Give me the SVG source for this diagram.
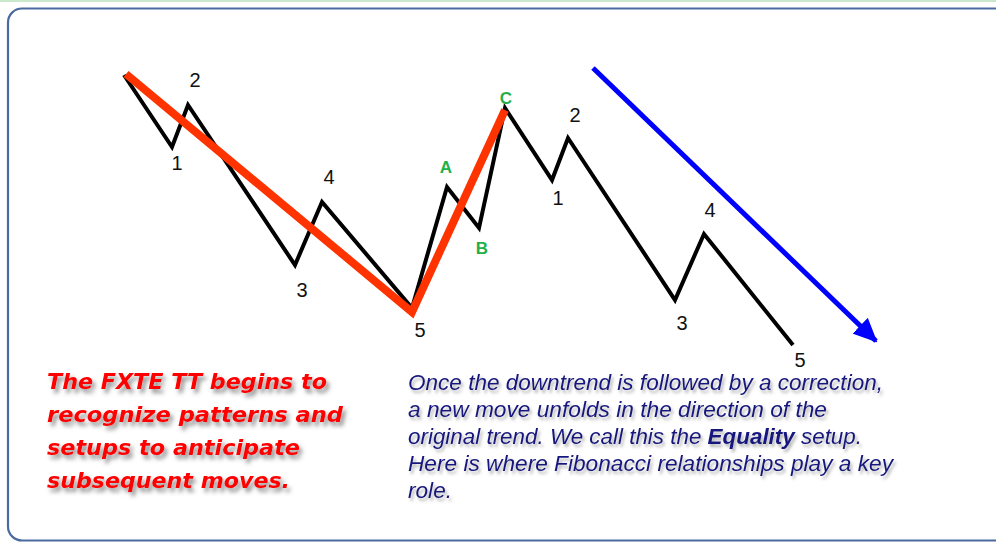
<svg xmlns="http://www.w3.org/2000/svg" width="996" height="542" viewBox="0 0 996 542">
<style>
.lbl{font-family:"Liberation Sans",Arial,sans-serif;font-size:20px;fill:#111;text-anchor:middle}
.grn{font-family:"Liberation Sans",Arial,sans-serif;font-size:17px;font-weight:bold;fill:#22b04a;text-anchor:middle}
.red{font-family:"DejaVu Sans","Open Sans",sans-serif;font-size:21.5px;font-weight:700;font-style:italic;fill:#ff0000}
.blu{font-family:"Liberation Sans",Arial,sans-serif;font-size:22px;font-style:italic;fill:#18187f}
.wave{fill:none;stroke:#000;stroke-width:4;stroke-linejoin:miter}
</style>
<defs>
<filter id="sh" x="-10%" y="-30%" width="120%" height="160%">
<feDropShadow dx="3" dy="4" stdDeviation="2" flood-color="#555" flood-opacity="0.65"/>
</filter>
<filter id="sh2" x="-10%" y="-30%" width="120%" height="160%">
<feDropShadow dx="2" dy="3" stdDeviation="1.5" flood-color="#666" flood-opacity="0.5"/>
</filter>
<marker id="ah2" viewBox="0 0 24 22" refX="22" refY="11" markerWidth="24" markerHeight="22" orient="auto" markerUnits="userSpaceOnUse">
<path d="M0,0 L24,11 L0,22 z" fill="#0000ff"/>
</marker>
</defs>
<rect x="0" y="0" width="996" height="542" fill="#ffffff"/>
<rect x="0" y="0" width="996" height="2" fill="#c9e8cc"/>
<g id="frame">
<rect x="8" y="8.5" width="1010" height="532" rx="14" ry="14" fill="none" stroke="#4a6aa0" stroke-width="2.2"/>
</g>
<g id="connectors">
<polyline id="wave1" class="wave" points="124,75 172,147 188,105 295,265 322,202 412,308 447,187 479,228 505,108 552,180 568,138 675,300 704,234 793,345"/>
<polyline id="redline" points="126,74 412,312 505,110" fill="none" stroke="#ff3300" stroke-width="8" stroke-linejoin="miter"/>
<line id="bluearrow" x1="593" y1="68" x2="876" y2="341" stroke="#0000ff" stroke-width="5" marker-end="url(#ah2)"/>
</g>
<g id="labels-left">
<text class="lbl" x="195" y="87">2</text>
<text class="lbl" x="177" y="170">1</text>
<text class="lbl" x="329" y="184">4</text>
<text class="lbl" x="302" y="297">3</text>
<text class="lbl" x="420" y="337">5</text>
</g>
<g id="labels-abc">
<text class="grn" x="446" y="173">A</text>
<text class="grn" x="482" y="254">B</text>
<text class="grn" x="506" y="104">C</text>
</g>
<g id="labels-right">
<text class="lbl" x="575" y="122">2</text>
<text class="lbl" x="558" y="205">1</text>
<text class="lbl" x="710" y="217">4</text>
<text class="lbl" x="682" y="330">3</text>
<text class="lbl" x="800" y="367">5</text>
</g>
<g id="red-note" filter="url(#sh)">
<text class="red" x="47" y="389" textLength="280" lengthAdjust="spacingAndGlyphs">The FXTE TT begins to</text>
<text class="red" x="47" y="422" textLength="296" lengthAdjust="spacingAndGlyphs">recognize patterns and</text>
<text class="red" x="47" y="455" textLength="253" lengthAdjust="spacingAndGlyphs">setups to anticipate</text>
<text class="red" x="47" y="488" textLength="243" lengthAdjust="spacingAndGlyphs">subsequent moves.</text>
</g>
<g id="blue-note" filter="url(#sh2)">
<text class="blu" x="408" y="390" textLength="475" lengthAdjust="spacingAndGlyphs">Once the downtrend is followed by a correction,</text>
<text class="blu" x="408" y="417" textLength="419" lengthAdjust="spacingAndGlyphs">a new move unfolds in the direction of the</text>
<text class="blu" x="408" y="444" textLength="454" lengthAdjust="spacingAndGlyphs">original trend. We call this the <tspan font-weight="bold">Equality</tspan> setup.</text>
<text class="blu" x="408" y="471" textLength="485" lengthAdjust="spacingAndGlyphs">Here is where Fibonacci relationships play a key</text>
<text class="blu" x="408" y="498" textLength="44" lengthAdjust="spacingAndGlyphs">role.</text>
</g>
</svg>
